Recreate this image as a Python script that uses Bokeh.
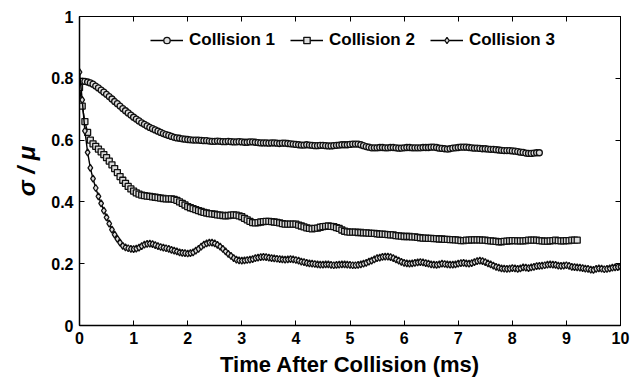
from bokeh.plotting import figure
from bokeh.models import LinearAxis, Range1d, FixedTicker, Legend, LegendItem, CustomJSTickFormatter
from bokeh.embed import file_html
from bokeh.resources import INLINE

sample_step_ms = 0.05

collision1 = [0.790, 0.791, 0.790, 0.788, 0.785, 0.781, 0.775, 0.769, 0.762, 0.755,
              0.748, 0.741, 0.733, 0.725, 0.718, 0.710, 0.702, 0.695, 0.688, 0.681,
              0.674, 0.668, 0.662, 0.656, 0.651, 0.646, 0.641, 0.637, 0.633, 0.629,
              0.625, 0.621, 0.618, 0.615, 0.612, 0.609, 0.607, 0.606, 0.604, 0.603,
              0.602, 0.601, 0.600, 0.600, 0.600, 0.599, 0.598, 0.598, 0.597, 0.596,
              0.596, 0.597, 0.596, 0.595, 0.595, 0.596, 0.595, 0.594, 0.594, 0.595,
              0.594, 0.593, 0.593, 0.594, 0.594, 0.593, 0.592, 0.591, 0.591, 0.591,
              0.590, 0.591, 0.591, 0.590, 0.589, 0.590, 0.590, 0.589, 0.588, 0.587,
              0.586, 0.585, 0.584, 0.584, 0.585, 0.584, 0.583, 0.582, 0.582, 0.583,
              0.583, 0.582, 0.581, 0.581, 0.582, 0.583, 0.584, 0.585, 0.585, 0.585,
              0.586, 0.587, 0.587, 0.587, 0.585, 0.582, 0.579, 0.577, 0.575, 0.575,
              0.575, 0.576, 0.576, 0.575, 0.575, 0.576, 0.576, 0.575, 0.574, 0.574,
              0.575, 0.576, 0.576, 0.575, 0.575, 0.575, 0.575, 0.576, 0.576, 0.576,
              0.577, 0.577, 0.576, 0.574, 0.573, 0.572, 0.571, 0.572, 0.574, 0.575,
              0.576, 0.577, 0.577, 0.577, 0.576, 0.575, 0.574, 0.574, 0.573, 0.572,
              0.572, 0.571, 0.570, 0.570, 0.569, 0.568, 0.567, 0.566, 0.566, 0.566,
              0.565, 0.564, 0.563, 0.561, 0.560, 0.558, 0.557, 0.557, 0.558, 0.559,
              0.559]

collision2 = [0.770, 0.710, 0.660, 0.625, 0.600, 0.588, 0.580, 0.571, 0.562, 0.553,
              0.543, 0.532, 0.520, 0.508, 0.495, 0.482, 0.470, 0.460, 0.450, 0.442,
              0.435, 0.429, 0.425, 0.422, 0.420, 0.419, 0.418, 0.416, 0.415, 0.414,
              0.412, 0.411, 0.410, 0.410, 0.410, 0.408, 0.405, 0.400, 0.395, 0.390,
              0.385, 0.381, 0.378, 0.375, 0.372, 0.369, 0.366, 0.364, 0.362, 0.361,
              0.360, 0.358, 0.357, 0.356, 0.355, 0.356, 0.357, 0.358, 0.357, 0.355,
              0.352, 0.347, 0.342, 0.337, 0.333, 0.332, 0.333, 0.335, 0.336, 0.337,
              0.337, 0.336, 0.335, 0.334, 0.332, 0.330, 0.328, 0.328, 0.328, 0.328,
              0.328, 0.325, 0.322, 0.319, 0.316, 0.314, 0.313, 0.314, 0.315, 0.318,
              0.320, 0.321, 0.322, 0.321, 0.320, 0.317, 0.314, 0.309, 0.305, 0.303,
              0.302, 0.302, 0.302, 0.301, 0.301, 0.300, 0.300, 0.299, 0.298, 0.298,
              0.297, 0.296, 0.296, 0.295, 0.294, 0.293, 0.293, 0.291, 0.290, 0.289,
              0.288, 0.288, 0.288, 0.287, 0.287, 0.285, 0.284, 0.283, 0.283, 0.282,
              0.282, 0.281, 0.281, 0.280, 0.280, 0.279, 0.279, 0.278, 0.278, 0.277,
              0.276, 0.275, 0.275, 0.276, 0.276, 0.277, 0.277, 0.277, 0.277, 0.276,
              0.276, 0.275, 0.274, 0.273, 0.272, 0.271, 0.271, 0.272, 0.273, 0.274,
              0.275, 0.275, 0.274, 0.274, 0.274, 0.275, 0.276, 0.276, 0.276, 0.276,
              0.275, 0.274, 0.273, 0.273, 0.274, 0.275, 0.276, 0.275, 0.274, 0.274,
              0.275, 0.275, 0.276, 0.276, 0.276]

collision3 = [0.820, 0.730, 0.630, 0.560, 0.510, 0.475, 0.445, 0.418, 0.395, 0.372,
              0.350, 0.330, 0.310, 0.294, 0.280, 0.268, 0.258, 0.253, 0.250, 0.248,
              0.247, 0.249, 0.252, 0.257, 0.262, 0.264, 0.265, 0.263, 0.260, 0.257,
              0.254, 0.252, 0.250, 0.248, 0.245, 0.242, 0.240, 0.237, 0.235, 0.234,
              0.233, 0.234, 0.237, 0.242, 0.248, 0.255, 0.262, 0.266, 0.268, 0.268,
              0.266, 0.261, 0.255, 0.248, 0.240, 0.232, 0.225, 0.218, 0.213, 0.211,
              0.210, 0.211, 0.212, 0.213, 0.215, 0.218, 0.220, 0.221, 0.222, 0.221,
              0.220, 0.218, 0.217, 0.216, 0.215, 0.214, 0.213, 0.214, 0.215, 0.214,
              0.212, 0.210, 0.207, 0.205, 0.203, 0.201, 0.200, 0.199, 0.198, 0.197,
              0.197, 0.198, 0.198, 0.196, 0.195, 0.196, 0.197, 0.198, 0.198, 0.197,
              0.196, 0.195, 0.195, 0.196, 0.198, 0.200, 0.203, 0.207, 0.210, 0.214,
              0.218, 0.220, 0.222, 0.223, 0.223, 0.221, 0.218, 0.214, 0.210, 0.206,
              0.203, 0.201, 0.200, 0.201, 0.203, 0.204, 0.205, 0.204, 0.202, 0.200,
              0.198, 0.197, 0.196, 0.198, 0.200, 0.199, 0.198, 0.197, 0.197, 0.198,
              0.200, 0.202, 0.203, 0.201, 0.200, 0.202, 0.205, 0.208, 0.210, 0.208,
              0.205, 0.201, 0.198, 0.194, 0.190, 0.187, 0.185, 0.184, 0.183, 0.184,
              0.186, 0.185, 0.183, 0.185, 0.188, 0.187, 0.186, 0.188, 0.190, 0.192,
              0.193, 0.194, 0.195, 0.197, 0.198, 0.197, 0.196, 0.194, 0.193, 0.194,
              0.195, 0.193, 0.190, 0.189, 0.188, 0.187, 0.186, 0.184, 0.183, 0.181,
              0.180, 0.183, 0.185, 0.184, 0.182, 0.183, 0.185, 0.187, 0.188, 0.189,
              0.190]

labels = ["Collision 1", "Collision 2", "Collision 3"]
markers = ["circle", "square", "diamond"]
x_ticks = [0, 1, 2, 3, 4, 5, 6, 7, 8, 9, 10]
y_ticks = [0, 0.2, 0.4, 0.6, 0.8, 1]
y_tick_labels = {0: "0", 0.2: "0.2", 0.4: "0.4", 0.6: "0.6", 0.8: "0.8", 1: "1"}

FONT = "Liberation Sans"

p = figure(width=632, height=379, output_backend="svg", toolbar_location=None,
           x_range=Range1d(0, 10), y_range=Range1d(0, 1),
           min_border_left=79, min_border_right=12, min_border_top=16, min_border_bottom=53)
p.grid.visible = False
p.outline_line_color = "black"
p.outline_line_width = 1
p.background_fill_color = "white"
p.border_fill_color = "white"

for ax in (p.xaxis[0], p.yaxis[0]):
    ax.major_tick_in = 5
    ax.major_tick_out = 0
    ax.minor_tick_line_color = None
    ax.axis_line_width = 1.5
    ax.axis_line_color = "black"
    ax.major_tick_line_color = "black"
    ax.major_label_text_font = FONT
    ax.major_label_text_font_style = "bold"
    ax.major_label_text_font_size = "16px"
    ax.major_label_text_color = "black"
    ax.axis_label_text_font = FONT
    ax.axis_label_text_color = "black"

p.xaxis[0].ticker = FixedTicker(ticks=x_ticks)
p.yaxis[0].ticker = FixedTicker(ticks=y_ticks)
p.yaxis[0].major_label_overrides = y_tick_labels
p.xaxis[0].major_label_standoff = 6
p.yaxis[0].major_label_standoff = 6

p.xaxis[0].axis_label = "Time After Collision (ms)"
p.xaxis[0].axis_label_text_font_size = "22px"
p.xaxis[0].axis_label_text_font_style = "bold"
p.xaxis[0].axis_label_standoff = 5

p.yaxis[0].axis_label = "σ / μ"
p.yaxis[0].axis_label_text_font_size = "24px"
p.yaxis[0].axis_label_text_font_style = "bold italic"
p.yaxis[0].axis_label_standoff = 8

blank = CustomJSTickFormatter(code="return ''")
top = LinearAxis(ticker=FixedTicker(ticks=x_ticks), formatter=blank,
                 major_tick_in=5, major_tick_out=0, minor_tick_line_color=None,
                 axis_line_color="black", major_label_standoff=0,
                 major_label_text_font_size="1px")
right = LinearAxis(ticker=FixedTicker(ticks=y_ticks), formatter=blank,
                   major_tick_in=5, major_tick_out=0, minor_tick_line_color=None,
                   axis_line_color="black", major_label_standoff=0,
                   major_label_text_font_size="1px")
p.add_layout(top, "above")
p.add_layout(right, "right")

items = []
for v, lab, mk in zip([collision1, collision2, collision3], labels, markers):
    t = [round(i * sample_step_ms, 2) for i in range(len(v))]
    lr = p.line(t, v, line_color="black", line_width=1.4)
    sr = p.scatter(t, v, marker=mk, size=6 if mk != "diamond" else 7,
                   line_color="#111111", fill_color="#dddddd", line_width=1.3)
    items.append(LegendItem(label=lab, renderers=[lr, sr]))

legend = Legend(items=items, orientation="horizontal", location=(71, 275),
                background_fill_alpha=0, border_line_alpha=0,
                label_text_font=FONT, label_text_font_style="bold",
                label_text_font_size="17px", label_text_color="black",
                glyph_width=33, glyph_height=16, label_height=16,
                label_standoff=6, spacing=15, padding=0, margin=0)
p.add_layout(legend, "center")

open("out.html", "w").write(file_html(p, INLINE))
